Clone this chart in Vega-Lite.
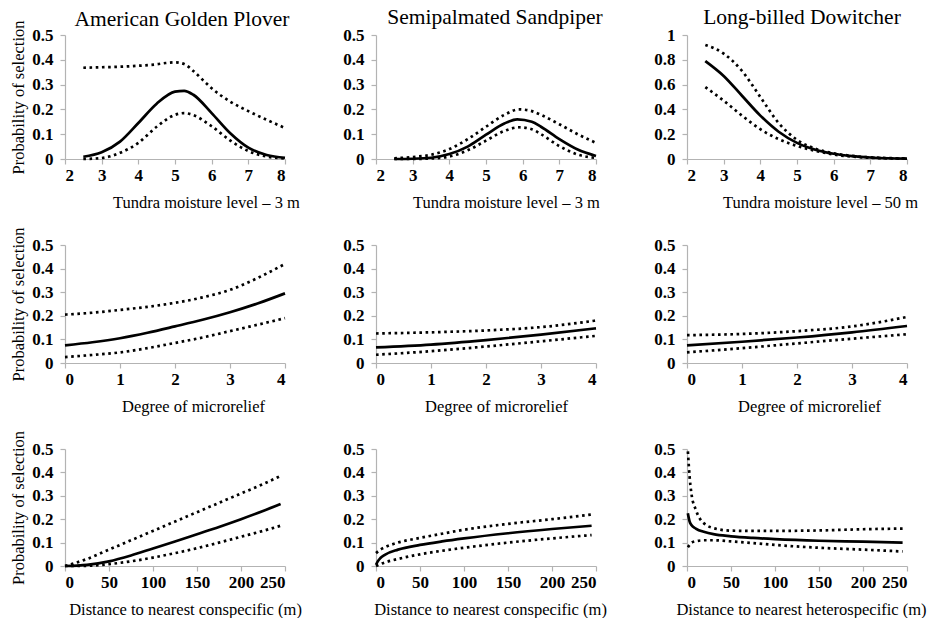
{
  "$schema": "https://vega.github.io/schema/vega-lite/v6.json",
  "background": "white",
  "padding": {"left": 10, "top": 6, "right": 0, "bottom": 0},
  "data": {"values": [
    {"p":"p1","b":"fit","x":2.5,"y":0.009},{"p":"p1","b":"fit","x":3,"y":0.027},{"p":"p1","b":"fit","x":3.5,"y":0.07},{"p":"p1","b":"fit","x":4,"y":0.145},{"p":"p1","b":"fit","x":4.5,"y":0.223},{"p":"p1","b":"fit","x":5,"y":0.272},{"p":"p1","b":"fit","x":5.25,"y":0.275},{"p":"p1","b":"fit","x":5.5,"y":0.259},{"p":"p1","b":"fit","x":6,"y":0.185},{"p":"p1","b":"fit","x":6.5,"y":0.105},{"p":"p1","b":"fit","x":7,"y":0.046},{"p":"p1","b":"fit","x":7.5,"y":0.016},{"p":"p1","b":"fit","x":8,"y":0.005},
    {"p":"p1","b":"upper","x":2.5,"y":0.368},{"p":"p1","b":"upper","x":3,"y":0.37},{"p":"p1","b":"upper","x":3.5,"y":0.372},{"p":"p1","b":"upper","x":4,"y":0.376},{"p":"p1","b":"upper","x":4.5,"y":0.382},{"p":"p1","b":"upper","x":4.75,"y":0.387},{"p":"p1","b":"upper","x":5,"y":0.39},{"p":"p1","b":"upper","x":5.25,"y":0.383},{"p":"p1","b":"upper","x":5.5,"y":0.355},{"p":"p1","b":"upper","x":5.75,"y":0.32},{"p":"p1","b":"upper","x":6,"y":0.285},{"p":"p1","b":"upper","x":6.5,"y":0.232},{"p":"p1","b":"upper","x":7,"y":0.193},{"p":"p1","b":"upper","x":7.5,"y":0.158},{"p":"p1","b":"upper","x":8,"y":0.125},
    {"p":"p1","b":"lower","x":2.5,"y":0.0},{"p":"p1","b":"lower","x":3,"y":0.004},{"p":"p1","b":"lower","x":3.5,"y":0.025},{"p":"p1","b":"lower","x":4,"y":0.065},{"p":"p1","b":"lower","x":4.5,"y":0.13},{"p":"p1","b":"lower","x":5,"y":0.178},{"p":"p1","b":"lower","x":5.25,"y":0.185},{"p":"p1","b":"lower","x":5.5,"y":0.177},{"p":"p1","b":"lower","x":6,"y":0.132},{"p":"p1","b":"lower","x":6.5,"y":0.075},{"p":"p1","b":"lower","x":7,"y":0.032},{"p":"p1","b":"lower","x":7.5,"y":0.01},{"p":"p1","b":"lower","x":8,"y":0.002},

    {"p":"p2","b":"fit","x":2.5,"y":0.0},{"p":"p2","b":"fit","x":3,"y":0.001},{"p":"p2","b":"fit","x":3.5,"y":0.005},{"p":"p2","b":"fit","x":4,"y":0.02},{"p":"p2","b":"fit","x":4.5,"y":0.05},{"p":"p2","b":"fit","x":5,"y":0.098},{"p":"p2","b":"fit","x":5.5,"y":0.143},{"p":"p2","b":"fit","x":5.85,"y":0.16},{"p":"p2","b":"fit","x":6.25,"y":0.15},{"p":"p2","b":"fit","x":6.5,"y":0.13},{"p":"p2","b":"fit","x":7,"y":0.08},{"p":"p2","b":"fit","x":7.5,"y":0.038},{"p":"p2","b":"fit","x":8,"y":0.012},
    {"p":"p2","b":"upper","x":2.5,"y":0.003},{"p":"p2","b":"upper","x":3,"y":0.008},{"p":"p2","b":"upper","x":3.5,"y":0.017},{"p":"p2","b":"upper","x":4,"y":0.04},{"p":"p2","b":"upper","x":4.5,"y":0.08},{"p":"p2","b":"upper","x":5,"y":0.13},{"p":"p2","b":"upper","x":5.5,"y":0.178},{"p":"p2","b":"upper","x":5.9,"y":0.2},{"p":"p2","b":"upper","x":6.25,"y":0.193},{"p":"p2","b":"upper","x":6.5,"y":0.178},{"p":"p2","b":"upper","x":7,"y":0.14},{"p":"p2","b":"upper","x":7.5,"y":0.1},{"p":"p2","b":"upper","x":8,"y":0.065},
    {"p":"p2","b":"lower","x":2.5,"y":0.0},{"p":"p2","b":"lower","x":3,"y":0.0},{"p":"p2","b":"lower","x":3.5,"y":0.002},{"p":"p2","b":"lower","x":4,"y":0.01},{"p":"p2","b":"lower","x":4.5,"y":0.035},{"p":"p2","b":"lower","x":5,"y":0.074},{"p":"p2","b":"lower","x":5.5,"y":0.113},{"p":"p2","b":"lower","x":5.9,"y":0.128},{"p":"p2","b":"lower","x":6.25,"y":0.12},{"p":"p2","b":"lower","x":6.5,"y":0.1},{"p":"p2","b":"lower","x":7,"y":0.052},{"p":"p2","b":"lower","x":7.5,"y":0.018},{"p":"p2","b":"lower","x":8,"y":0.004},

    {"p":"p3","b":"fit","x":2.5,"y":0.79},{"p":"p3","b":"fit","x":3,"y":0.67},{"p":"p3","b":"fit","x":3.5,"y":0.51},{"p":"p3","b":"fit","x":4,"y":0.35},{"p":"p3","b":"fit","x":4.5,"y":0.22},{"p":"p3","b":"fit","x":5,"y":0.13},{"p":"p3","b":"fit","x":5.5,"y":0.075},{"p":"p3","b":"fit","x":6,"y":0.042},{"p":"p3","b":"fit","x":6.5,"y":0.023},{"p":"p3","b":"fit","x":7,"y":0.012},{"p":"p3","b":"fit","x":7.5,"y":0.006},{"p":"p3","b":"fit","x":8,"y":0.003},
    {"p":"p3","b":"upper","x":2.5,"y":0.92},{"p":"p3","b":"upper","x":3,"y":0.85},{"p":"p3","b":"upper","x":3.5,"y":0.71},{"p":"p3","b":"upper","x":4,"y":0.5},{"p":"p3","b":"upper","x":4.5,"y":0.29},{"p":"p3","b":"upper","x":5,"y":0.155},{"p":"p3","b":"upper","x":5.5,"y":0.083},{"p":"p3","b":"upper","x":6,"y":0.046},{"p":"p3","b":"upper","x":6.5,"y":0.025},{"p":"p3","b":"upper","x":7,"y":0.013},{"p":"p3","b":"upper","x":7.5,"y":0.007},{"p":"p3","b":"upper","x":8,"y":0.004},
    {"p":"p3","b":"lower","x":2.5,"y":0.58},{"p":"p3","b":"lower","x":3,"y":0.47},{"p":"p3","b":"lower","x":3.5,"y":0.35},{"p":"p3","b":"lower","x":4,"y":0.24},{"p":"p3","b":"lower","x":4.5,"y":0.16},{"p":"p3","b":"lower","x":5,"y":0.105},{"p":"p3","b":"lower","x":5.5,"y":0.066},{"p":"p3","b":"lower","x":6,"y":0.036},{"p":"p3","b":"lower","x":6.5,"y":0.019},{"p":"p3","b":"lower","x":7,"y":0.01},{"p":"p3","b":"lower","x":7.5,"y":0.005},{"p":"p3","b":"lower","x":8,"y":0.002},

    {"p":"p4","b":"fit","x":0,"y":0.075},{"p":"p4","b":"fit","x":0.5,"y":0.088},{"p":"p4","b":"fit","x":1,"y":0.105},{"p":"p4","b":"fit","x":1.5,"y":0.128},{"p":"p4","b":"fit","x":2,"y":0.155},{"p":"p4","b":"fit","x":2.5,"y":0.183},{"p":"p4","b":"fit","x":3,"y":0.215},{"p":"p4","b":"fit","x":3.5,"y":0.252},{"p":"p4","b":"fit","x":4,"y":0.295},
    {"p":"p4","b":"upper","x":0,"y":0.205},{"p":"p4","b":"upper","x":0.5,"y":0.213},{"p":"p4","b":"upper","x":1,"y":0.225},{"p":"p4","b":"upper","x":1.5,"y":0.238},{"p":"p4","b":"upper","x":2,"y":0.255},{"p":"p4","b":"upper","x":2.5,"y":0.278},{"p":"p4","b":"upper","x":3,"y":0.31},{"p":"p4","b":"upper","x":3.5,"y":0.36},{"p":"p4","b":"upper","x":4,"y":0.42},
    {"p":"p4","b":"lower","x":0,"y":0.025},{"p":"p4","b":"lower","x":0.5,"y":0.034},{"p":"p4","b":"lower","x":1,"y":0.045},{"p":"p4","b":"lower","x":1.5,"y":0.063},{"p":"p4","b":"lower","x":2,"y":0.085},{"p":"p4","b":"lower","x":2.5,"y":0.108},{"p":"p4","b":"lower","x":3,"y":0.135},{"p":"p4","b":"lower","x":3.5,"y":0.162},{"p":"p4","b":"lower","x":4,"y":0.19},

    {"p":"p5","b":"fit","x":0,"y":0.066},{"p":"p5","b":"fit","x":1,"y":0.078},{"p":"p5","b":"fit","x":2,"y":0.097},{"p":"p5","b":"fit","x":3,"y":0.12},{"p":"p5","b":"fit","x":4,"y":0.147},
    {"p":"p5","b":"upper","x":0,"y":0.125},{"p":"p5","b":"upper","x":1,"y":0.13},{"p":"p5","b":"upper","x":2,"y":0.138},{"p":"p5","b":"upper","x":3,"y":0.152},{"p":"p5","b":"upper","x":4,"y":0.18},
    {"p":"p5","b":"lower","x":0,"y":0.035},{"p":"p5","b":"lower","x":1,"y":0.05},{"p":"p5","b":"lower","x":2,"y":0.07},{"p":"p5","b":"lower","x":3,"y":0.092},{"p":"p5","b":"lower","x":4,"y":0.115},

    {"p":"p6","b":"fit","x":0,"y":0.075},{"p":"p6","b":"fit","x":1,"y":0.09},{"p":"p6","b":"fit","x":2,"y":0.108},{"p":"p6","b":"fit","x":3,"y":0.13},{"p":"p6","b":"fit","x":4,"y":0.157},
    {"p":"p6","b":"upper","x":0,"y":0.118},{"p":"p6","b":"upper","x":1,"y":0.123},{"p":"p6","b":"upper","x":2,"y":0.135},{"p":"p6","b":"upper","x":3,"y":0.155},{"p":"p6","b":"upper","x":4,"y":0.195},
    {"p":"p6","b":"lower","x":0,"y":0.045},{"p":"p6","b":"lower","x":1,"y":0.063},{"p":"p6","b":"lower","x":2,"y":0.083},{"p":"p6","b":"lower","x":3,"y":0.103},{"p":"p6","b":"lower","x":4,"y":0.122},

    {"p":"p7","b":"fit","x":0,"y":0.0},{"p":"p7","b":"fit","x":25,"y":0.005},{"p":"p7","b":"fit","x":50,"y":0.02},{"p":"p7","b":"fit","x":75,"y":0.045},{"p":"p7","b":"fit","x":100,"y":0.075},{"p":"p7","b":"fit","x":125,"y":0.105},{"p":"p7","b":"fit","x":150,"y":0.136},{"p":"p7","b":"fit","x":175,"y":0.167},{"p":"p7","b":"fit","x":200,"y":0.2},{"p":"p7","b":"fit","x":225,"y":0.235},{"p":"p7","b":"fit","x":245,"y":0.265},
    {"p":"p7","b":"upper","x":0,"y":0.0},{"p":"p7","b":"upper","x":25,"y":0.03},{"p":"p7","b":"upper","x":50,"y":0.07},{"p":"p7","b":"upper","x":75,"y":0.11},{"p":"p7","b":"upper","x":100,"y":0.15},{"p":"p7","b":"upper","x":125,"y":0.19},{"p":"p7","b":"upper","x":150,"y":0.23},{"p":"p7","b":"upper","x":175,"y":0.27},{"p":"p7","b":"upper","x":200,"y":0.31},{"p":"p7","b":"upper","x":225,"y":0.35},{"p":"p7","b":"upper","x":245,"y":0.385},
    {"p":"p7","b":"lower","x":0,"y":0.0},{"p":"p7","b":"lower","x":25,"y":0.001},{"p":"p7","b":"lower","x":50,"y":0.008},{"p":"p7","b":"lower","x":75,"y":0.02},{"p":"p7","b":"lower","x":100,"y":0.036},{"p":"p7","b":"lower","x":125,"y":0.055},{"p":"p7","b":"lower","x":150,"y":0.076},{"p":"p7","b":"lower","x":175,"y":0.1},{"p":"p7","b":"lower","x":200,"y":0.125},{"p":"p7","b":"lower","x":225,"y":0.15},{"p":"p7","b":"lower","x":245,"y":0.172},

    {"p":"p8","b":"fit","x":0,"y":0.005},{"p":"p8","b":"fit","x":2,"y":0.02},{"p":"p8","b":"fit","x":5,"y":0.034},{"p":"p8","b":"fit","x":10,"y":0.048},{"p":"p8","b":"fit","x":25,"y":0.07},{"p":"p8","b":"fit","x":50,"y":0.09},{"p":"p8","b":"fit","x":75,"y":0.105},{"p":"p8","b":"fit","x":100,"y":0.118},{"p":"p8","b":"fit","x":150,"y":0.14},{"p":"p8","b":"fit","x":200,"y":0.158},{"p":"p8","b":"fit","x":245,"y":0.172},
    {"p":"p8","b":"upper","x":0,"y":0.055},{"p":"p8","b":"upper","x":5,"y":0.07},{"p":"p8","b":"upper","x":10,"y":0.08},{"p":"p8","b":"upper","x":25,"y":0.1},{"p":"p8","b":"upper","x":50,"y":0.12},{"p":"p8","b":"upper","x":75,"y":0.138},{"p":"p8","b":"upper","x":100,"y":0.155},{"p":"p8","b":"upper","x":150,"y":0.18},{"p":"p8","b":"upper","x":200,"y":0.2},{"p":"p8","b":"upper","x":245,"y":0.22},
    {"p":"p8","b":"lower","x":0,"y":0.0},{"p":"p8","b":"lower","x":5,"y":0.008},{"p":"p8","b":"lower","x":10,"y":0.015},{"p":"p8","b":"lower","x":25,"y":0.03},{"p":"p8","b":"lower","x":50,"y":0.05},{"p":"p8","b":"lower","x":75,"y":0.065},{"p":"p8","b":"lower","x":100,"y":0.078},{"p":"p8","b":"lower","x":150,"y":0.1},{"p":"p8","b":"lower","x":200,"y":0.118},{"p":"p8","b":"lower","x":245,"y":0.132},

    {"p":"p9","b":"fit","x":1,"y":0.225},{"p":"p9","b":"fit","x":3,"y":0.19},{"p":"p9","b":"fit","x":5,"y":0.175},{"p":"p9","b":"fit","x":10,"y":0.16},{"p":"p9","b":"fit","x":20,"y":0.145},{"p":"p9","b":"fit","x":30,"y":0.136},{"p":"p9","b":"fit","x":50,"y":0.127},{"p":"p9","b":"fit","x":75,"y":0.12},{"p":"p9","b":"fit","x":100,"y":0.115},{"p":"p9","b":"fit","x":150,"y":0.108},{"p":"p9","b":"fit","x":200,"y":0.104},{"p":"p9","b":"fit","x":245,"y":0.1},
    {"p":"p9","b":"upper","x":1,"y":0.49},{"p":"p9","b":"upper","x":3,"y":0.38},{"p":"p9","b":"upper","x":5,"y":0.31},{"p":"p9","b":"upper","x":10,"y":0.24},{"p":"p9","b":"upper","x":15,"y":0.2},{"p":"p9","b":"upper","x":20,"y":0.18},{"p":"p9","b":"upper","x":30,"y":0.162},{"p":"p9","b":"upper","x":50,"y":0.151},{"p":"p9","b":"upper","x":75,"y":0.15},{"p":"p9","b":"upper","x":100,"y":0.15},{"p":"p9","b":"upper","x":150,"y":0.152},{"p":"p9","b":"upper","x":200,"y":0.157},{"p":"p9","b":"upper","x":245,"y":0.16},
    {"p":"p9","b":"lower","x":1,"y":0.08},{"p":"p9","b":"lower","x":3,"y":0.09},{"p":"p9","b":"lower","x":5,"y":0.099},{"p":"p9","b":"lower","x":10,"y":0.106},{"p":"p9","b":"lower","x":20,"y":0.11},{"p":"p9","b":"lower","x":30,"y":0.11},{"p":"p9","b":"lower","x":50,"y":0.105},{"p":"p9","b":"lower","x":75,"y":0.098},{"p":"p9","b":"lower","x":100,"y":0.09},{"p":"p9","b":"lower","x":150,"y":0.078},{"p":"p9","b":"lower","x":200,"y":0.07},{"p":"p9","b":"lower","x":245,"y":0.062}
  ]},
  "columns": 3,
  "bounds": "flush",
  "align": "each",
  "spacing": {"row": 86, "column": 91},
  "concat": [
      {"transform":[{"filter":"datum.p=='p1'"}],"width":220,"height":124,
       "title":{"text":"American Golden Plover","dx":7,"offset":-10},
       "encoding":{
         "x":{"field":"x","type":"quantitative","scale":{"domain":[2,8],"nice":false,"zero":false},"axis":{"values":[2,3,4,5,6,7,8],"title":"Tundra moisture level – 3 m","titleX":141}},
         "y":{"field":"y","type":"quantitative","scale":{"domain":[0,0.5],"nice":false},"axis":{"values":[0,0.1,0.2,0.3,0.4,0.5],"format":"~g","title":"Probability of selection"}}},
       "layer":[
         {"transform":[{"filter":"datum.b=='fit'"}],"mark":{"type":"line","color":"#000","strokeWidth":2.7,"interpolate":"monotone"},"encoding":{}},
         {"transform":[{"filter":"datum.b!='fit'"}],"mark":{"type":"line","color":"#000","strokeWidth":2.7,"strokeDash":[2.6,3.6],"interpolate":"monotone"},"encoding":{"detail":{"field":"b"}}}]},
      {"transform":[{"filter":"datum.p=='p2'"}],"width":220,"height":124,
       "title":{"text":"Semipalmated Sandpiper","dx":9},
       "encoding":{
         "x":{"field":"x","type":"quantitative","scale":{"domain":[2,8],"nice":false,"zero":false},"axis":{"values":[2,3,4,5,6,7,8],"title":"Tundra moisture level – 3 m","titleX":130}},
         "y":{"field":"y","type":"quantitative","scale":{"domain":[0,0.5],"nice":false},"axis":{"values":[0,0.1,0.2,0.3,0.4,0.5],"format":"~g","title":null}}},
       "layer":[
         {"transform":[{"filter":"datum.b=='fit'"}],"mark":{"type":"line","color":"#000","strokeWidth":2.7,"interpolate":"monotone"},"encoding":{}},
         {"transform":[{"filter":"datum.b!='fit'"}],"mark":{"type":"line","color":"#000","strokeWidth":2.7,"strokeDash":[2.6,3.6],"interpolate":"monotone"},"encoding":{"detail":{"field":"b"}}}]},
      {"transform":[{"filter":"datum.p=='p3'"}],"width":220,"height":124,
       "title":{"text":"Long-billed Dowitcher","dx":5},
       "encoding":{
         "x":{"field":"x","type":"quantitative","scale":{"domain":[2,8],"nice":false,"zero":false},"axis":{"values":[2,3,4,5,6,7,8],"title":"Tundra moisture level – 50 m","titleX":133}},
         "y":{"field":"y","type":"quantitative","scale":{"domain":[0,1],"nice":false},"axis":{"values":[0,0.2,0.4,0.6,0.8,1],"format":"~g","title":null}}},
       "layer":[
         {"transform":[{"filter":"datum.b=='fit'"}],"mark":{"type":"line","color":"#000","strokeWidth":2.7,"interpolate":"monotone"},"encoding":{}},
         {"transform":[{"filter":"datum.b!='fit'"}],"mark":{"type":"line","color":"#000","strokeWidth":2.7,"strokeDash":[2.6,3.6],"interpolate":"monotone"},"encoding":{"detail":{"field":"b"}}}]},
      {"transform":[{"filter":"datum.p=='p4'"}],"width":220,"height":118,
       "encoding":{
         "x":{"field":"x","type":"quantitative","scale":{"domain":[0,4],"nice":false},"axis":{"values":[0,1,2,3,4],"title":"Degree of microrelief","titleX":128}},
         "y":{"field":"y","type":"quantitative","scale":{"domain":[0,0.5],"nice":false},"axis":{"values":[0,0.1,0.2,0.3,0.4,0.5],"format":"~g","title":"Probability of selection"}}},
       "layer":[
         {"transform":[{"filter":"datum.b=='fit'"}],"mark":{"type":"line","color":"#000","strokeWidth":2.7,"interpolate":"monotone"},"encoding":{}},
         {"transform":[{"filter":"datum.b!='fit'"}],"mark":{"type":"line","color":"#000","strokeWidth":2.7,"strokeDash":[2.6,3.6],"interpolate":"monotone"},"encoding":{"detail":{"field":"b"}}}]},
      {"transform":[{"filter":"datum.p=='p5'"}],"width":220,"height":118,
       "encoding":{
         "x":{"field":"x","type":"quantitative","scale":{"domain":[0,4],"nice":false},"axis":{"values":[0,1,2,3,4],"title":"Degree of microrelief","titleX":120}},
         "y":{"field":"y","type":"quantitative","scale":{"domain":[0,0.5],"nice":false},"axis":{"values":[0,0.1,0.2,0.3,0.4,0.5],"format":"~g","title":null}}},
       "layer":[
         {"transform":[{"filter":"datum.b=='fit'"}],"mark":{"type":"line","color":"#000","strokeWidth":2.7,"interpolate":"monotone"},"encoding":{}},
         {"transform":[{"filter":"datum.b!='fit'"}],"mark":{"type":"line","color":"#000","strokeWidth":2.7,"strokeDash":[2.6,3.6],"interpolate":"monotone"},"encoding":{"detail":{"field":"b"}}}]},
      {"transform":[{"filter":"datum.p=='p6'"}],"width":220,"height":118,
       "encoding":{
         "x":{"field":"x","type":"quantitative","scale":{"domain":[0,4],"nice":false},"axis":{"values":[0,1,2,3,4],"title":"Degree of microrelief","titleX":122}},
         "y":{"field":"y","type":"quantitative","scale":{"domain":[0,0.5],"nice":false},"axis":{"values":[0,0.1,0.2,0.3,0.4,0.5],"format":"~g","title":null}}},
       "layer":[
         {"transform":[{"filter":"datum.b=='fit'"}],"mark":{"type":"line","color":"#000","strokeWidth":2.7,"interpolate":"monotone"},"encoding":{}},
         {"transform":[{"filter":"datum.b!='fit'"}],"mark":{"type":"line","color":"#000","strokeWidth":2.7,"strokeDash":[2.6,3.6],"interpolate":"monotone"},"encoding":{"detail":{"field":"b"}}}]},
      {"transform":[{"filter":"datum.p=='p7'"}],"width":220,"height":117,
       "encoding":{
         "x":{"field":"x","type":"quantitative","scale":{"domain":[0,250],"nice":false},"axis":{"values":[0,50,100,150,200,250],"title":"Distance to nearest conspecific (m)","titleX":120}},
         "y":{"field":"y","type":"quantitative","scale":{"domain":[0,0.5],"nice":false},"axis":{"values":[0,0.1,0.2,0.3,0.4,0.5],"format":"~g","title":"Probability of selection"}}},
       "layer":[
         {"transform":[{"filter":"datum.b=='fit'"}],"mark":{"type":"line","color":"#000","strokeWidth":2.7,"interpolate":"monotone"},"encoding":{}},
         {"transform":[{"filter":"datum.b!='fit'"}],"mark":{"type":"line","color":"#000","strokeWidth":2.7,"strokeDash":[2.6,3.6],"interpolate":"monotone"},"encoding":{"detail":{"field":"b"}}}]},
      {"transform":[{"filter":"datum.p=='p8'"}],"width":220,"height":117,
       "encoding":{
         "x":{"field":"x","type":"quantitative","scale":{"domain":[0,250],"nice":false},"axis":{"values":[0,50,100,150,200,250],"title":"Distance to nearest conspecific (m)","titleX":114}},
         "y":{"field":"y","type":"quantitative","scale":{"domain":[0,0.5],"nice":false},"axis":{"values":[0,0.1,0.2,0.3,0.4,0.5],"format":"~g","title":null}}},
       "layer":[
         {"transform":[{"filter":"datum.b=='fit'"}],"mark":{"type":"line","color":"#000","strokeWidth":2.7,"interpolate":"monotone"},"encoding":{}},
         {"transform":[{"filter":"datum.b!='fit'"}],"mark":{"type":"line","color":"#000","strokeWidth":2.7,"strokeDash":[2.6,3.6],"interpolate":"monotone"},"encoding":{"detail":{"field":"b"}}}]},
      {"transform":[{"filter":"datum.p=='p9'"}],"width":220,"height":117,
       "encoding":{
         "x":{"field":"x","type":"quantitative","scale":{"domain":[0,250],"nice":false},"axis":{"values":[0,50,100,150,200,250],"title":"Distance to nearest heterospecific (m)","titleX":114}},
         "y":{"field":"y","type":"quantitative","scale":{"domain":[0,0.5],"nice":false},"axis":{"values":[0,0.1,0.2,0.3,0.4,0.5],"format":"~g","title":null}}},
       "layer":[
         {"transform":[{"filter":"datum.b=='fit'"}],"mark":{"type":"line","color":"#000","strokeWidth":2.7,"interpolate":"monotone"},"encoding":{}},
         {"transform":[{"filter":"datum.b!='fit'"}],"mark":{"type":"line","color":"#000","strokeWidth":2.7,"strokeDash":[2.6,3.6],"interpolate":"monotone"},"encoding":{"detail":{"field":"b"}}}]}
  ],
  "config": {
    "view": {"stroke": null},
    "axis": {"grid": false, "domainColor": "#b3b3b3", "tickColor": "#b3b3b3", "tickSize": 5, "domainWidth": 1.2, "tickWidth": 1.2,
      "labelFont": "Liberation Serif", "labelFontSize": 17, "labelFontWeight": "bold", "labelColor": "#000",
      "titleFont": "Liberation Serif", "titleFontSize": 16.5, "titleFontWeight": "normal", "titleColor": "#000"},
    "axisX": {"labelPadding": 3, "titlePadding": 11},
    "axisY": {"labelPadding": 7, "titlePadding": 5},
    "title": {"font": "Liberation Serif", "fontSize": 21.5, "fontWeight": "normal", "color": "#000", "offset": -2, "anchor": "middle"}
  }
}
